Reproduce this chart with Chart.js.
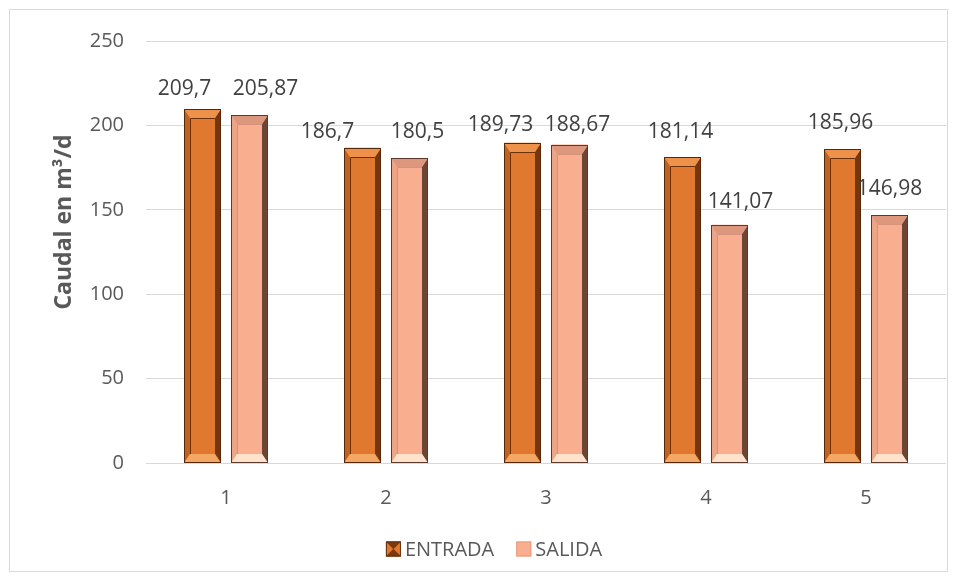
<!DOCTYPE html>
<html>
<head>
<meta charset="utf-8">
<script src="https://cdn.jsdelivr.net/npm/chart.js@4.4.1/dist/chart.umd.min.js"></script>
<style>
  html, body { margin: 0; padding: 0; background: #ffffff; }
  #wrap { position: relative; width: 957px; height: 581px; }
</style>
</head>
<body>
<div id="wrap"><canvas id="chart" width="957" height="581"></canvas></div>
<script>
// Caudal de entrada y salida (m³/d) por muestreo
const categories = ['1', '2', '3', '4', '5'];
const entrada = [209.7, 186.7, 189.73, 181.14, 185.96];
const salida = [205.87, 180.5, 188.67, 141.07, 146.98];
const seriesNames = ['ENTRADA', 'SALIDA'];
const yMin = 0, yMax = 250, yStep = 50;
const yTitle = 'Caudal en m³/d';

const FONT = '"Open Sans", "Liberation Sans", sans-serif';
const TEXT = '#595959';

// Bevel palettes for the two series
const palettes = [
  { body: '#E1782F', top: '#EE914A', left: '#BE621F', right: '#74360C',
    bottom: '#F4A665', inner: '#6A300A', outline: '#55280A' },
  { body: '#F9AE8F', top: '#DC977D', left: '#EEA487', right: '#6E4535',
    bottom: '#FFE2CC', inner: '#D4937A', outline: '#5B3A2D' }
];

function poly(ctx, pts, color) {
  ctx.beginPath();
  ctx.moveTo(pts[0][0], pts[0][1]);
  for (let i = 1; i < pts.length; i++) ctx.lineTo(pts[i][0], pts[i][1]);
  ctx.closePath();
  ctx.fillStyle = color;
  ctx.fill();
}

function drawBevel(ctx, L, T, R, B, p, bx, by) {
  ctx.save();
  ctx.fillStyle = p.body;
  ctx.fillRect(L, T, R - L, B - T);
  const iL = L + bx, iR = R - bx, iT = T + by, iB = B - by;
  poly(ctx, [[L, T], [iL, iT], [iL, iB], [L, B]], p.left);
  poly(ctx, [[R, T], [R, B], [iR, iB], [iR, iT]], p.right);
  poly(ctx, [[L, T], [R, T], [iR, iT], [iL, iT]], p.top);
  poly(ctx, [[L, B], [iL, iB], [iR, iB], [R, B]], p.bottom);
  // inner edge of the bevel
  ctx.strokeStyle = p.inner;
  ctx.lineWidth = 1;
  ctx.beginPath();
  ctx.moveTo(iL + 0.5, iB);
  ctx.lineTo(iL + 0.5, iT + 0.5);
  ctx.lineTo(iR, iT + 0.5);
  ctx.stroke();
  // outline
  ctx.strokeStyle = p.outline;
  ctx.strokeRect(L + 0.5, T + 0.5, R - L - 1, B - T - 1);
  ctx.restore();
}

const fmt = v => String(v).replace('.', ',');

// Frame around the whole chart and white background
const framePlugin = {
  id: 'frame',
  beforeDraw(chart) {
    const ctx = chart.ctx;
    ctx.save();
    ctx.fillStyle = '#ffffff';
    ctx.fillRect(0, 0, chart.width, chart.height);
    ctx.strokeStyle = '#d9d9d9';
    ctx.lineWidth = 1;
    ctx.strokeRect(9.5, 9.5, chart.width - 19, chart.height - 19);
    ctx.restore();
  }
};

// Bevelled bars and value labels
const bevelPlugin = {
  id: 'bevel',
  afterDatasetsDraw(chart, args, opts) {
    const ctx = chart.ctx;
    chart.data.datasets.forEach((ds, di) => {
      const meta = chart.getDatasetMeta(di);
      meta.data.forEach((el) => {
        const { x, y, base, width } = el.getProps(['x', 'y', 'base', 'width'], true);
        const L = Math.round(x - width / 2), R = Math.round(x + width / 2);
        drawBevel(ctx, L, Math.round(y), R, Math.round(base), palettes[di], 6, 9);
      });
    });
    ctx.save();
    ctx.font = '21px ' + FONT;
    ctx.fillStyle = '#404040';
    ctx.textAlign = 'center';
    ctx.textBaseline = 'middle';
    chart.data.datasets.forEach((ds, di) => {
      const meta = chart.getDatasetMeta(di);
      meta.data.forEach((el, i) => {
        const { x, y } = el.getProps(['x', 'y'], true);
        const off = opts.offsets[di][i];
        ctx.fillText(fmt(ds.data[i]), x + off[0], y + off[1]);
      });
    });
    ctx.restore();
  }
};

// Rotated axis title and legend
const decorPlugin = {
  id: 'decor',
  afterDraw(chart, args, opts) {
    const ctx = chart.ctx;
    ctx.save();
    ctx.translate(opts.titleX, opts.titleY);
    ctx.rotate(-Math.PI / 2);
    ctx.font = 'bold 23px ' + FONT;
    ctx.fillStyle = TEXT;
    ctx.textAlign = 'center';
    ctx.textBaseline = 'middle';
    ctx.fillText(yTitle, 0, 0);
    ctx.restore();

    ctx.save();
    ctx.font = '20px ' + FONT;
    const box = 15, gapText = 4, gapItem = 22;
    const widths = chart.data.datasets.map(ds => box + gapText + ctx.measureText(ds.label).width);
    const total = widths.reduce((a, b) => a + b, 0) + gapItem * (widths.length - 1);
    let x = opts.legendCenterX - total / 2;
    const cy = opts.legendY;
    chart.data.datasets.forEach((ds, di) => {
      const p = palettes[di];
      if (di === 0) {
        drawBevel(ctx, x, cy - box / 2, x + box, cy + box / 2,
          { body: '#8A4414', top: '#7A3A10', left: '#E2792F', right: '#E2792F',
            bottom: '#7A3A10', inner: '#8A4414', outline: '#6A320C' }, 7, 7);
      } else {
        ctx.fillStyle = p.body;
        ctx.fillRect(x, cy - box / 2, box, box);
        ctx.strokeStyle = '#E79A7C';
        ctx.strokeRect(x + 0.5, cy - box / 2 + 0.5, box - 1, box - 1);
      }
      ctx.fillStyle = TEXT;
      ctx.textAlign = 'left';
      ctx.textBaseline = 'middle';
      ctx.fillText(ds.label, x + box + gapText, cy + 1);
      x += widths[di] + gapItem;
    });
    ctx.restore();
  }
};

new Chart(document.getElementById('chart'), {
  type: 'bar',
  data: {
    labels: categories,
    datasets: [
      { label: seriesNames[0], data: entrada, backgroundColor: palettes[0].body,
        categoryPercentage: 0.5875, barPercentage: 0.766 },
      { label: seriesNames[1], data: salida, backgroundColor: palettes[1].body,
        categoryPercentage: 0.5875, barPercentage: 0.766 }
    ]
  },
  options: {
    responsive: false,
    animation: false,
    devicePixelRatio: 1,
    layout: { padding: { left: 0, right: 11, top: 41, bottom: 58 } },
    plugins: {
      legend: { display: false },
      tooltip: { enabled: false },
      bevel: {
        offsets: [
          [[-18, -20], [-35, -16], [-22, -18], [-2, -25], [-2, -26]],
          [[16, -26], [8, -26], [8, -20], [11, -23], [0, -26]]
        ]
      },
      decor: { titleX: 64, titleY: 222, legendCenterX: 494, legendY: 549 }
    },
    scales: {
      x: {
        grid: { display: false },
        border: { display: false },
        ticks: { color: TEXT, font: { family: FONT, size: 20 }, padding: 15 },
        afterFit(scale) { scale.height = 60; }
      },
      y: {
        min: yMin, max: yMax,
        ticks: { stepSize: yStep, color: TEXT, font: { family: FONT, size: 20 }, padding: 22 },
        grid: { color: '#d9d9d9', lineWidth: 1, drawTicks: false },
        border: { display: false },
        afterFit(scale) { scale.width = 146; }
      }
    }
  },
  plugins: [framePlugin, bevelPlugin, decorPlugin]
});
</script>
</body>
</html>
